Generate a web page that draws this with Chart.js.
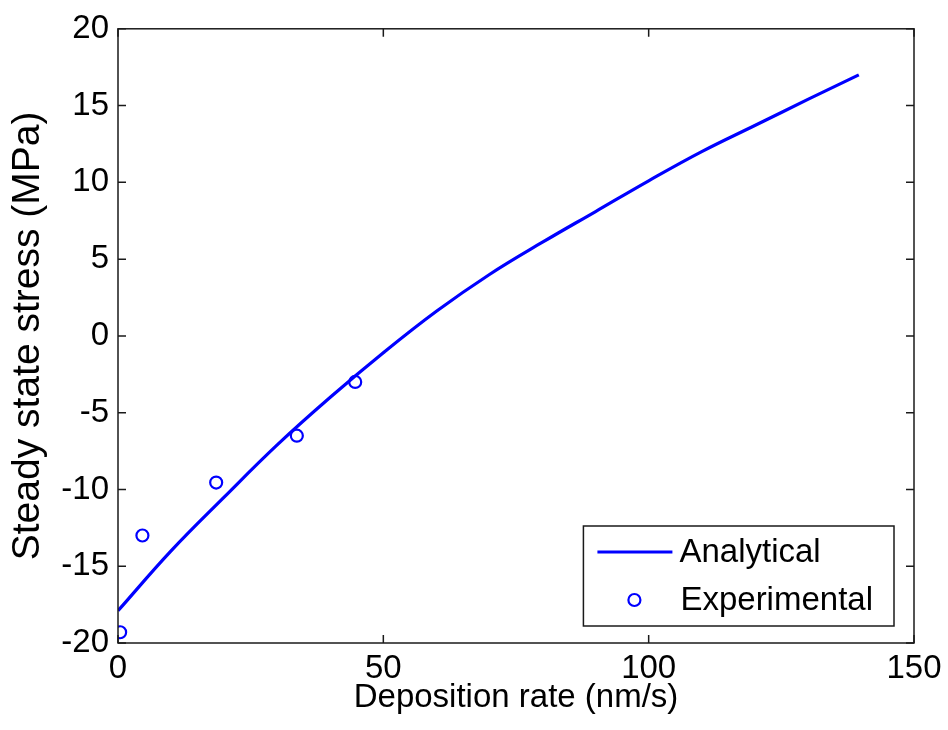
<!DOCTYPE html>
<html>
<head>
<meta charset="utf-8">
<script src="https://cdn.jsdelivr.net/npm/chart.js@4/dist/chart.umd.min.js"></script>
<style>
  html, body { margin: 0; padding: 0; background: #fff; }
  #wrap { width: 948px; height: 730px; }
</style>
</head>
<body>
<div id="wrap"><canvas id="stressChart"></canvas></div>
<script>
// Analytical steady state stress curve
const modelRate = [0, 10, 20, 30, 40, 50, 60, 70, 80, 90, 100, 110, 120, 130, 139.6];
const modelStress = [-17.9, -14.0, -10.5, -7.1, -4.0, -1.1, 1.6, 4.0, 6.1, 8.1, 10.1, 12.0, 13.7, 15.4, 17.0];

// Measured points
const expRate = [0.4, 4.6, 18.5, 33.7, 44.7];
const expStress = [-19.3, -13.0, -9.55, -6.5, -3.0];

const xTicks = [0, 50, 100, 150];
const yTicks = [-20, -15, -10, -5, 0, 5, 10, 15, 20];

const FONT = "'Liberation Sans', Arial, sans-serif";
const AXIS_COLOR = '#1a1a1a';

function toPoints(xs, ys) {
    return xs.map((x, i) => ({ x: x, y: ys[i] }));
}

// Box around the plot area with inward ticks on all four sides
const framePlugin = {
    id: 'frame',
    afterDatasetsDraw(chart) {
        const { ctx, chartArea: a, scales } = chart;
        const len = 8;
        ctx.save();
        ctx.strokeStyle = AXIS_COLOR;
        ctx.lineWidth = 1.5;
        ctx.strokeRect(a.left, a.top, a.right - a.left, a.bottom - a.top);
        ctx.beginPath();
        xTicks.forEach(v => {
            const px = scales.x.getPixelForValue(v);
            ctx.moveTo(px, a.bottom); ctx.lineTo(px, a.bottom - len);
            ctx.moveTo(px, a.top); ctx.lineTo(px, a.top + len);
        });
        yTicks.forEach(v => {
            const py = scales.y.getPixelForValue(v);
            ctx.moveTo(a.left, py); ctx.lineTo(a.left + len, py);
            ctx.moveTo(a.right, py); ctx.lineTo(a.right - len, py);
        });
        ctx.stroke();
        ctx.restore();
    }
};

// Legend in the lower right corner of the plot
const boxLegend = {
    id: 'boxLegend',
    afterDraw(chart) {
        const { ctx, chartArea: a } = chart;
        const sets = chart.data.datasets;
        ctx.save();
        ctx.font = '33px ' + FONT;
        const textW = Math.max(...sets.map(d => ctx.measureText(d.label).width));
        const right = a.right - 20;
        const bottom = a.bottom - 17;
        const w = 98 + textW + 20;
        const h = 100;
        const left = right - w;
        const top = bottom - h;
        ctx.fillStyle = '#fff';
        ctx.fillRect(left, top, w, h);
        ctx.strokeStyle = AXIS_COLOR;
        ctx.lineWidth = 1.5;
        ctx.strokeRect(left, top, w, h);

        const rows = [top + 26, top + 74];
        // line sample
        ctx.strokeStyle = sets[0].borderColor;
        ctx.lineWidth = 3;
        ctx.beginPath();
        ctx.moveTo(left + 14, rows[0]);
        ctx.lineTo(left + 89, rows[0]);
        ctx.stroke();
        // marker sample
        ctx.lineWidth = sets[1].borderWidth;
        ctx.beginPath();
        ctx.arc(left + 51, rows[1], sets[1].pointRadius, 0, Math.PI * 2);
        ctx.stroke();

        ctx.fillStyle = '#000';
        ctx.textBaseline = 'middle';
        ctx.textAlign = 'left';
        ctx.fillText(sets[0].label, left + 96, rows[0] + 1);
        ctx.fillText(sets[1].label, left + 97, rows[1] + 1);
        ctx.restore();
    }
};

const ctx = document.getElementById('stressChart').getContext('2d');
new Chart(ctx, {
    type: 'scatter',
    data: {
        datasets: [{
            label: 'Analytical',
            data: toPoints(modelRate, modelStress),
            showLine: true,
            borderColor: '#0000ff',
            borderWidth: 3.2,
            pointRadius: 0,
            tension: 0.4,
            fill: false
        }, {
            label: 'Experimental',
            data: toPoints(expRate, expStress),
            showLine: false,
            borderColor: '#0000ff',
            backgroundColor: 'rgba(0,0,0,0)',
            borderWidth: 2.2,
            pointRadius: 6
        }]
    },
    options: {
        responsive: true,
        maintainAspectRatio: false,
        animation: false,
        layout: { padding: { top: 22, right: 34, left: 0, bottom: 0 } },
        plugins: {
            legend: { display: false },
            tooltip: { enabled: false }
        },
        scales: {
            x: {
                type: 'linear',
                min: 0,
                max: 150,
                afterFit(scale) { scale.height = 87; },
                afterBuildTicks(scale) { scale.ticks = xTicks.map(v => ({ value: v })); },
                grid: { display: false, drawTicks: false },
                border: { display: false },
                ticks: { color: '#000', padding: 6, maxRotation: 0, font: { family: FONT, size: 33 } },
                title: {
                    display: true,
                    text: 'Deposition rate (nm/s)',
                    color: '#000',
                    padding: { top: 0, bottom: 12 },
                    font: { family: FONT, size: 33 }
                }
            },
            y: {
                type: 'linear',
                min: -20,
                max: 20,
                afterFit(scale) { scale.width = 118; },
                afterBuildTicks(scale) { scale.ticks = yTicks.map(v => ({ value: v })); },
                grid: { display: false, drawTicks: false },
                border: { display: false },
                ticks: { color: '#000', padding: 9, font: { family: FONT, size: 33 } },
                title: {
                    display: true,
                    text: 'Steady state stress (MPa)',
                    color: '#000',
                    padding: { top: 5, bottom: 0 },
                    font: { family: FONT, size: 39 }
                }
            }
        }
    },
    plugins: [framePlugin, boxLegend]
});
</script>
</body>
</html>
